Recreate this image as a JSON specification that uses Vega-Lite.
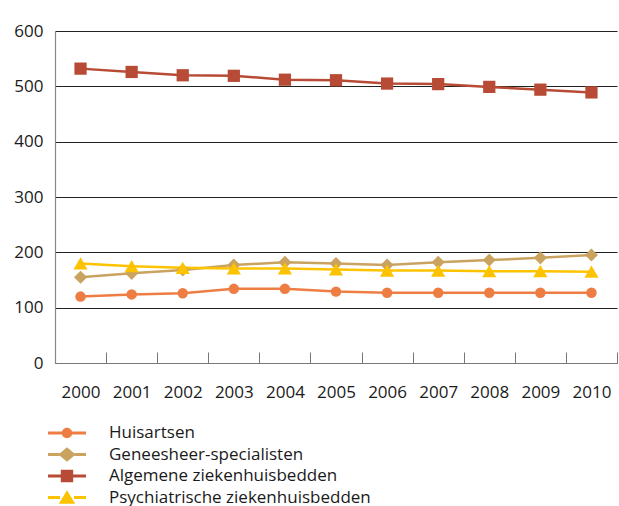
{
  "$schema": "https://vega.github.io/schema/vega-lite/v6.json",
  "width": 562,
  "height": 332,
  "autosize": {"type": "none"},
  "padding": {"left": 55, "top": 31, "right": 2, "bottom": 143},
  "background": "white",
  "config": {
    "font": "Open Sans",
    "view": {"stroke": null},
    "axis": {"labelFont": "Open Sans", "labelFontSize": 17, "labelColor": "#1a1a1a"},
    "legend": {"labelFont": "Open Sans", "labelFontSize": 17, "labelColor": "#1a1a1a", "labelLimit": 500}
  },
  "datasets": {
    "d": [
      {"year": "2000", "series": "Huisartsen", "v": 120},
      {"year": "2001", "series": "Huisartsen", "v": 124},
      {"year": "2002", "series": "Huisartsen", "v": 126},
      {"year": "2003", "series": "Huisartsen", "v": 134},
      {"year": "2004", "series": "Huisartsen", "v": 134},
      {"year": "2005", "series": "Huisartsen", "v": 129},
      {"year": "2006", "series": "Huisartsen", "v": 127},
      {"year": "2007", "series": "Huisartsen", "v": 127},
      {"year": "2008", "series": "Huisartsen", "v": 127},
      {"year": "2009", "series": "Huisartsen", "v": 127},
      {"year": "2010", "series": "Huisartsen", "v": 127},
      {"year": "2000", "series": "Geneesheer-specialisten", "v": 155},
      {"year": "2001", "series": "Geneesheer-specialisten", "v": 162},
      {"year": "2002", "series": "Geneesheer-specialisten", "v": 168},
      {"year": "2003", "series": "Geneesheer-specialisten", "v": 177},
      {"year": "2004", "series": "Geneesheer-specialisten", "v": 182},
      {"year": "2005", "series": "Geneesheer-specialisten", "v": 180},
      {"year": "2006", "series": "Geneesheer-specialisten", "v": 177},
      {"year": "2007", "series": "Geneesheer-specialisten", "v": 182},
      {"year": "2008", "series": "Geneesheer-specialisten", "v": 186},
      {"year": "2009", "series": "Geneesheer-specialisten", "v": 190},
      {"year": "2010", "series": "Geneesheer-specialisten", "v": 195},
      {"year": "2000", "series": "Algemene ziekenhuisbedden", "v": 532},
      {"year": "2001", "series": "Algemene ziekenhuisbedden", "v": 526},
      {"year": "2002", "series": "Algemene ziekenhuisbedden", "v": 520},
      {"year": "2003", "series": "Algemene ziekenhuisbedden", "v": 519},
      {"year": "2004", "series": "Algemene ziekenhuisbedden", "v": 512},
      {"year": "2005", "series": "Algemene ziekenhuisbedden", "v": 511},
      {"year": "2006", "series": "Algemene ziekenhuisbedden", "v": 505},
      {"year": "2007", "series": "Algemene ziekenhuisbedden", "v": 504},
      {"year": "2008", "series": "Algemene ziekenhuisbedden", "v": 499},
      {"year": "2009", "series": "Algemene ziekenhuisbedden", "v": 494},
      {"year": "2010", "series": "Algemene ziekenhuisbedden", "v": 489},
      {"year": "2000", "series": "Psychiatrische ziekenhuisbedden", "v": 180},
      {"year": "2001", "series": "Psychiatrische ziekenhuisbedden", "v": 175},
      {"year": "2002", "series": "Psychiatrische ziekenhuisbedden", "v": 172},
      {"year": "2003", "series": "Psychiatrische ziekenhuisbedden", "v": 171},
      {"year": "2004", "series": "Psychiatrische ziekenhuisbedden", "v": 171},
      {"year": "2005", "series": "Psychiatrische ziekenhuisbedden", "v": 169},
      {"year": "2006", "series": "Psychiatrische ziekenhuisbedden", "v": 167},
      {"year": "2007", "series": "Psychiatrische ziekenhuisbedden", "v": 167},
      {"year": "2008", "series": "Psychiatrische ziekenhuisbedden", "v": 166},
      {"year": "2009", "series": "Psychiatrische ziekenhuisbedden", "v": 166},
      {"year": "2010", "series": "Psychiatrische ziekenhuisbedden", "v": 165}
    ]
  },
  "data": {"name": "d"},
  "encoding": {
    "x": {
      "field": "year", "type": "ordinal",
      "scale": {"paddingInner": 0, "paddingOuter": 0},
      "axis": {
        "title": null, "labelAngle": 0, "domainColor": "#777", "domainWidth": 1.2,
        "tickColor": "#777", "tickSize": -11, "tickBand": "extent", "tickWidth": 1,
        "labelPadding": 32, "grid": false
      }
    },
    "y": {
      "field": "v", "type": "quantitative",
      "scale": {"domain": [0, 600], "nice": false},
      "axis": {
        "title": null, "values": [0, 100, 200, 300, 400, 500, 600], "ticks": false,
        "labelPadding": 12, "domainColor": "#888", "domainWidth": 1.2,
        "grid": true, "gridColor": "#222", "gridWidth": 1
      }
    },
    "color": {
      "field": "series", "type": "nominal",
      "scale": {
        "domain": ["Huisartsen", "Geneesheer-specialisten", "Algemene ziekenhuisbedden", "Psychiatrische ziekenhuisbedden"],
        "range": ["#EE7D44", "#C9A35F", "#B84B35", "#FDC300"]
      },
      "legend": {
        "title": null, "orient": "none", "legendX": 2, "legendY": 392,
        "symbolSize": 400, "symbolStrokeWidth": 0, "symbolOpacity": 1,
        "labelOffset": 32, "rowPadding": 3.5
      }
    }
  },
  "layer": [
    {
      "mark": {"type": "line", "strokeWidth": 2.5}
    },
    {
      "transform": [{"filter": "datum.series === 'Huisartsen'"}],
      "mark": {"type": "point", "filled": true, "opacity": 1, "size": 110, "shape": "circle"}
    },
    {
      "transform": [{"filter": "datum.series === 'Geneesheer-specialisten'"}],
      "mark": {"type": "point", "filled": true, "opacity": 1, "size": 170, "shape": "diamond"}
    },
    {
      "transform": [{"filter": "datum.series === 'Algemene ziekenhuisbedden'"}],
      "mark": {"type": "point", "filled": true, "opacity": 1, "size": 150, "shape": "square"}
    },
    {
      "transform": [{"filter": "datum.series === 'Psychiatrische ziekenhuisbedden'"}],
      "mark": {"type": "point", "filled": true, "opacity": 1, "size": 200, "shape": "triangle-up"}
    },
    {
      "transform": [{"filter": "datum.v < -1000"}],
      "mark": {"type": "point", "filled": true, "opacity": 1, "size": 400},
      "encoding": {
        "shape": {
          "field": "series", "type": "nominal",
          "scale": {
            "domain": ["Huisartsen", "Geneesheer-specialisten", "Algemene ziekenhuisbedden", "Psychiatrische ziekenhuisbedden"],
            "range": [
              "M-1.9,-0.15H-0.48V0.15H-1.9Z M0.48,-0.15H1.9V0.15H0.48Z M0.52,0A0.52,0.52 0 1,1 -0.52,0A0.52,0.52 0 1,1 0.52,0Z",
              "M-1.9,-0.15H-0.75V0.15H-1.9Z M0.75,-0.15H1.9V0.15H0.75Z M0,-0.72L0.86,0L0,0.72L-0.86,0Z",
              "M-1.9,-0.15H-0.58V0.15H-1.9Z M0.58,-0.15H1.9V0.15H0.58Z M-0.62,-0.62H0.62V0.62H-0.62Z",
              "M-1.9,-0.15H-0.7V0.15H-1.9Z M0.7,-0.15H1.9V0.15H0.7Z M0,-0.72L0.82,0.62H-0.82Z"
            ]
          },
          "legend": {
            "title": null, "orient": "none", "legendX": 2, "legendY": 392,
            "symbolSize": 400, "symbolStrokeWidth": 0, "symbolOpacity": 1,
            "labelOffset": 32, "rowPadding": 3.5
          }
        }
      }
    }
  ]
}
